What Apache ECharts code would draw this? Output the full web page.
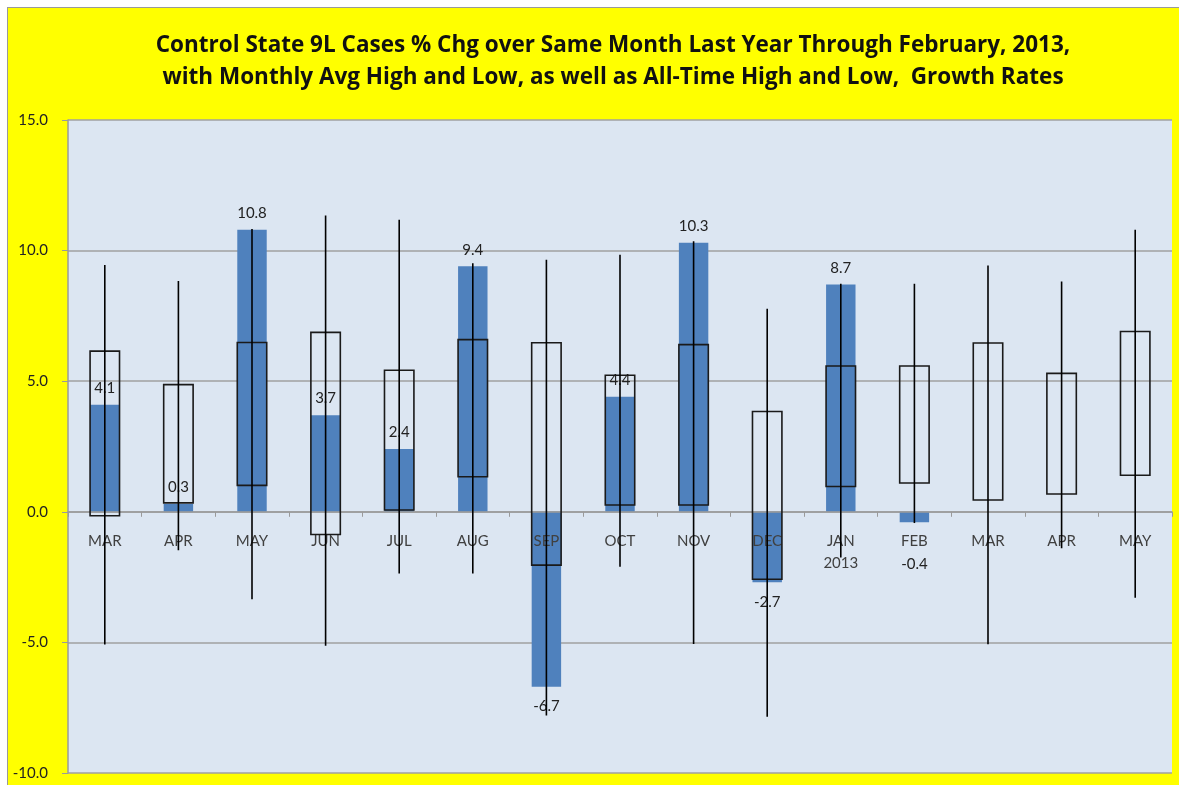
<!DOCTYPE html>
<html>
<head>
<meta charset="utf-8">
<script src="https://cdn.jsdelivr.net/npm/echarts@6/dist/echarts.min.js"></script>
<style>
html,body{margin:0;padding:0;background:#fff;width:1179px;height:785px;overflow:hidden;}
#c{position:absolute;left:7px;top:7px;width:1172px;height:778px;border-left:1px solid #9a9a9a;border-top:1px solid #9a9a9a;background:#FFFF00;}
</style>
</head>
<body>
<div id="c"></div>
<script>
const titleText = 'Control State 9L Cases % Chg over Same Month Last Year Through February, 2013,\nwith Monthly Avg High and Low, as well as All-Time High and Low,  Growth Rates';
const categories = ['MAR','APR','MAY','JUN','JUL','AUG','SEP','OCT','NOV','DEC','JAN\n2013','FEB','MAR','APR','MAY'];
const monthlyChange = [4.1, 0.3, 10.8, 3.7, 2.4, 9.4, -6.7, 4.4, 10.3, -2.7, 8.7, -0.4, null, null, null];
const avgHigh = [6.15, 4.87, 6.48, 6.87, 5.42, 6.59, 6.47, 5.23, 6.40, 3.84, 5.58, 5.58, 6.46, 5.30, 6.90];
const avgLow = [-0.15, 0.34, 1.01, -0.87, 0.07, 1.34, -2.04, 0.26, 0.26, -2.58, 0.97, 1.10, 0.45, 0.68, 1.40];
const allTimeHigh = [9.45, 8.84, 10.83, 11.34, 11.18, 9.52, 9.65, 9.84, 10.36, 7.77, 8.73, 8.73, 9.43, 8.82, 10.80];
const allTimeLow = [-5.08, -1.47, -3.35, -5.13, -2.36, -2.36, -7.80, -2.10, -5.06, -7.85, -1.75, -0.43, -5.07, -1.40, -3.29];
const yTicks = {min: -10, max: 15, interval: 5};

const chart = echarts.init(document.getElementById('c'));

const gridH = 653;
const zeroOffset = -gridH * (0 - yTicks.min) / (yTicks.max - yTicks.min);

const barData = monthlyChange.map((v, i) => {
  if (v === null) return null;
  const item = {value: v};
  if (v < 0) {
    item.label = {position: 'bottom', distance: (i === 11 ? 34 : 12)};
  }
  return item;
});

const rangeData = categories.map((c, i) => [i, allTimeLow[i], allTimeHigh[i], avgLow[i], avgHigh[i]]);

chart.setOption({
  animation: false,
  graphic: [{
    type: 'text',
    x: 605, y: 22,
    z: 10,
    style: {
      text: titleText,
      textAlign: 'center',
      fontFamily: 'Open Sans', fontWeight: 'bold', fontSize: 22.5, fill: '#111', lineHeight: 32
    }
  }],
  grid: {
    left: 60, top: 112, width: 1104, height: gridH,
    containLabel: false, outerBoundsMode: 'none',
    show: true, backgroundColor: '#DCE6F2', borderWidth: 0
  },
  xAxis: {
    type: 'category',
    data: categories,
    boundaryGap: true,
    offset: zeroOffset,
    z: 5,
    axisLine: {onZero: false, lineStyle: {color: '#9a9a9a', width: 1.5}},
    axisTick: {show: true, length: 5, lineStyle: {color: '#9a9a9a'}},
    axisLabel: {color: '#404040', fontFamily: 'Lato', fontSize: 15, margin: 18, lineHeight: 22, interval: 0, hideOverlap: false},
    splitLine: {show: false}
  },
  yAxis: {
    type: 'value',
    min: yTicks.min, max: yTicks.max, interval: yTicks.interval,
    axisLine: {show: true, lineStyle: {color: '#9a9a9a', width: 1.5}},
    axisTick: {show: true, length: 6, lineStyle: {color: '#9a9a9a'}},
    axisLabel: {color: '#222', fontFamily: 'Lato', fontSize: 15, margin: 20, formatter: v => v.toFixed(1)},
    splitLine: {show: true, lineStyle: {color: '#a0a0a0', width: 1.5}}
  },
  series: [
    {
      type: 'bar',
      data: barData,
      barWidth: '40%',
      itemStyle: {color: '#4F81BD'},
      z: 2,
      label: {
        show: true, position: 'top', distance: 9,
        color: '#222', fontFamily: 'Lato', fontSize: 15,
        formatter: p => p.value.toFixed(1)
      }
    },
    {
      type: 'custom',
      data: rangeData,
      encode: {x: 0, y: [1, 2, 3, 4]},
      z: 6,
      renderItem: function (params, api) {
        const x = api.value(0);
        const lo = api.coord([x, api.value(1)]);
        const hi = api.coord([x, api.value(2)]);
        const aLo = api.coord([x, api.value(3)]);
        const aHi = api.coord([x, api.value(4)]);
        const w = api.size([1, 0])[0] * 0.4;
        return {
          type: 'group',
          children: [
            {type: 'rect', shape: {x: aHi[0] - w / 2, y: aHi[1], width: w, height: aLo[1] - aHi[1]},
             style: {fill: 'none', stroke: '#1a1a1a', lineWidth: 1.6}},
            {type: 'line', shape: {x1: hi[0], y1: hi[1], x2: lo[0], y2: lo[1]},
             style: {stroke: '#000', lineWidth: 1.6}}
          ]
        };
      }
    }
  ]
});
</script>
</body>
</html>
